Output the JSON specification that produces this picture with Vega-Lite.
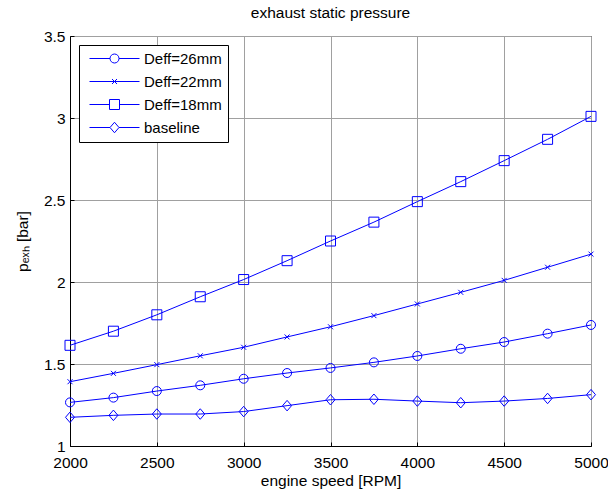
{
  "$schema": "https://vega.github.io/schema/vega-lite/v6.json",
  "width": 521,
  "height": 410,
  "autosize": {"type": "none"},
  "padding": {"left": 70, "top": 36, "right": 17, "bottom": 45},
  "background": "white",
  "title": {
    "text": "exhaust static pressure",
    "fontSize": 15.5,
    "fontWeight": "normal",
    "font": "Liberation Sans",
    "color": "black",
    "offset": 8
  },
  "config": {
    "view": {"stroke": "black", "strokeWidth": 1},
    "font": "Liberation Sans",
    "axis": {
      "domainColor": "black",
      "tickColor": "black",
      "tickSize": -4,
      "labelFlush": false,
      "labelFontSize": 15.5,
      "labelColor": "black",
      "titleFontSize": 15.5,
      "titleFontWeight": "normal",
      "titleColor": "black",
      "gridColor": "#a0a0a0",
      "gridOpacity": 1,
      "gridWidth": 1
    }
  },
  "data": {
    "values": [
      {"rpm": 2000, "series": "Deff=26mm", "p": 1.266},
      {"rpm": 2250, "series": "Deff=26mm", "p": 1.295},
      {"rpm": 2500, "series": "Deff=26mm", "p": 1.335},
      {"rpm": 2750, "series": "Deff=26mm", "p": 1.370},
      {"rpm": 3000, "series": "Deff=26mm", "p": 1.410},
      {"rpm": 3250, "series": "Deff=26mm", "p": 1.445},
      {"rpm": 3500, "series": "Deff=26mm", "p": 1.476},
      {"rpm": 3750, "series": "Deff=26mm", "p": 1.510},
      {"rpm": 4000, "series": "Deff=26mm", "p": 1.549},
      {"rpm": 4250, "series": "Deff=26mm", "p": 1.593},
      {"rpm": 4500, "series": "Deff=26mm", "p": 1.634},
      {"rpm": 4750, "series": "Deff=26mm", "p": 1.685},
      {"rpm": 5000, "series": "Deff=26mm", "p": 1.738},
      {"rpm": 2000, "series": "Deff=22mm", "p": 1.392},
      {"rpm": 2250, "series": "Deff=22mm", "p": 1.443},
      {"rpm": 2500, "series": "Deff=22mm", "p": 1.496},
      {"rpm": 2750, "series": "Deff=22mm", "p": 1.550},
      {"rpm": 3000, "series": "Deff=22mm", "p": 1.602},
      {"rpm": 3250, "series": "Deff=22mm", "p": 1.665},
      {"rpm": 3500, "series": "Deff=22mm", "p": 1.727},
      {"rpm": 3750, "series": "Deff=22mm", "p": 1.795},
      {"rpm": 4000, "series": "Deff=22mm", "p": 1.866},
      {"rpm": 4250, "series": "Deff=22mm", "p": 1.937},
      {"rpm": 4500, "series": "Deff=22mm", "p": 2.010},
      {"rpm": 4750, "series": "Deff=22mm", "p": 2.090},
      {"rpm": 5000, "series": "Deff=22mm", "p": 2.170},
      {"rpm": 2000, "series": "Deff=18mm", "p": 1.614},
      {"rpm": 2250, "series": "Deff=18mm", "p": 1.700},
      {"rpm": 2500, "series": "Deff=18mm", "p": 1.800},
      {"rpm": 2750, "series": "Deff=18mm", "p": 1.910},
      {"rpm": 3000, "series": "Deff=18mm", "p": 2.015},
      {"rpm": 3250, "series": "Deff=18mm", "p": 2.130},
      {"rpm": 3500, "series": "Deff=18mm", "p": 2.250},
      {"rpm": 3750, "series": "Deff=18mm", "p": 2.365},
      {"rpm": 4000, "series": "Deff=18mm", "p": 2.490},
      {"rpm": 4250, "series": "Deff=18mm", "p": 2.612},
      {"rpm": 4500, "series": "Deff=18mm", "p": 2.740},
      {"rpm": 4750, "series": "Deff=18mm", "p": 2.870},
      {"rpm": 5000, "series": "Deff=18mm", "p": 3.010},
      {"rpm": 2000, "series": "baseline", "p": 1.175},
      {"rpm": 2250, "series": "baseline", "p": 1.187},
      {"rpm": 2500, "series": "baseline", "p": 1.195},
      {"rpm": 2750, "series": "baseline", "p": 1.195},
      {"rpm": 3000, "series": "baseline", "p": 1.210},
      {"rpm": 3250, "series": "baseline", "p": 1.246},
      {"rpm": 3500, "series": "baseline", "p": 1.282},
      {"rpm": 3750, "series": "baseline", "p": 1.285},
      {"rpm": 4000, "series": "baseline", "p": 1.274},
      {"rpm": 4250, "series": "baseline", "p": 1.264},
      {"rpm": 4500, "series": "baseline", "p": 1.274},
      {"rpm": 4750, "series": "baseline", "p": 1.290},
      {"rpm": 5000, "series": "baseline", "p": 1.313}
    ]
  },
  "encoding": {
    "x": {
      "field": "rpm",
      "type": "quantitative",
      "scale": {"domain": [2000, 5000], "nice": false, "zero": false},
      "axis": {
        "title": "engine speed [RPM]",
        "values": [2000, 2500, 3000, 3500, 4000, 4500, 5000],
        "format": "d",
        "labelPadding": 13,
        "titlePadding": 3
      }
    },
    "y": {
      "field": "p",
      "type": "quantitative",
      "scale": {"domain": [1, 3.5], "nice": false, "zero": false},
      "axis": {
        "title": "pₑₓₕ [bar]",
        "values": [1, 1.5, 2, 2.5, 3, 3.5],
        "format": ".1~f",
        "labelPadding": 9,
        "titlePadding": 13
      }
    }
  },
  "layer": [
    {
      "mark": {"type": "line", "color": "#0000ff", "strokeWidth": 1},
      "encoding": {"detail": {"field": "series"}}
    },
    {
      "mark": {"type": "point", "color": "#0000ff", "filled": false, "strokeWidth": 1, "size": 100, "opacity": 1},
      "encoding": {
        "shape": {
          "field": "series",
          "scale": {
            "domain": ["Deff=26mm", "Deff=22mm", "Deff=18mm", "baseline"],
            "range": [
              "M-0.9,0A0.9,0.9,0,1,1,0.9,0A0.9,0.9,0,1,1,-0.9,0Z",
              "M-0.5,-0.5L0.5,0.5M-0.5,0.5L0.5,-0.5",
              "M-1,-1H1V1H-1Z",
              "M0,-1.05L0.9,0L0,1.05L-0.9,0Z"
            ]
          },
          "legend": null
        }
      }
    },
    {
      "mark": {"type": "point", "color": "#0000ff", "filled": false, "strokeWidth": 1, "size": 100, "opacity": 0},
      "encoding": {
        "shape": {
          "field": "series",
          "scale": {
            "domain": ["Deff=26mm", "Deff=22mm", "Deff=18mm", "baseline"],
            "range": [
              "M-5,0H-0.9M0.9,0H5M-0.9,0A0.9,0.9,0,1,1,0.9,0A0.9,0.9,0,1,1,-0.9,0Z",
              "M-5,0H5M-0.5,-0.5L0.5,0.5M-0.5,0.5L0.5,-0.5",
              "M-5,0H-1M1,0H5M-1,-1H1V1H-1Z",
              "M-5,0H-0.9M0.9,0H5M0,-1.05L0.9,0L0,1.05L-0.9,0Z"
            ]
          },
          "legend": {
            "title": null,
            "orient": "none",
            "legendX": 9,
            "legendY": 9,
            "fillColor": "white",
            "strokeColor": "black",
            "padding": 6,
            "symbolSize": 100,
            "symbolOpacity": 1,
            "symbolStrokeColor": "#0000ff",
            "symbolFillColor": "transparent",
            "symbolStrokeWidth": 1,
            "symbolOffset": 22,
            "labelOffset": 22,
            "labelFontSize": 15,
            "labelColor": "black",
            "labelFont": "Liberation Sans",
            "rowPadding": 7
          }
        }
      }
    }
  ],
  "resolve": {"scale": {"shape": "independent"}, "legend": {"shape": "independent"}}
}
